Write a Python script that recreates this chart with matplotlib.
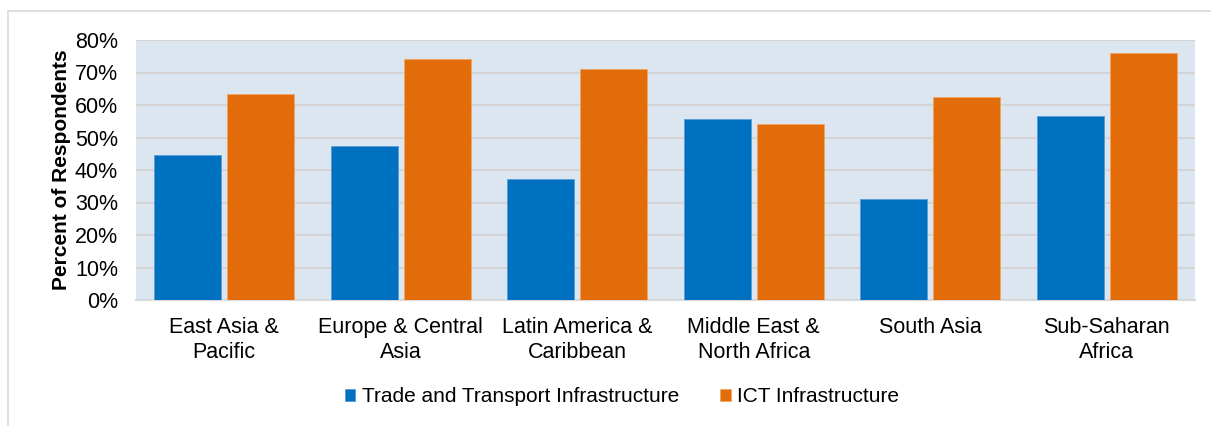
import numpy as np
import matplotlib.pyplot as plt
from matplotlib.patches import Rectangle

plt.rcParams['font.family'] = ['Liberation Sans', 'DejaVu Sans']

regions = ['East Asia &\nPacific', 'Europe & Central\nAsia', 'Latin America &\nCaribbean',
           'Middle East &\nNorth Africa', 'South Asia', 'Sub-Saharan\nAfrica']
trade = [44.5, 47.4, 37.1, 55.6, 31.0, 56.7]
ict = [63.3, 74.1, 71.0, 54.2, 62.5, 76.1]
yticks = [0, 10, 20, 30, 40, 50, 60, 70, 80]

blue = '#0070C0'
orange = '#E36C0A'
fs = 15.5

fig = plt.figure(figsize=(12.11, 4.26), dpi=100)
# outer chart frame
fig.patches.append(Rectangle((8/1211, -0.01), 1.0, (426-11)/426 + 0.01, transform=fig.transFigure,
                             fill=False, edgecolor='#D9D9D9', lw=1.2))
ax = fig.add_axes([136/1211, 126/426, 1059/1211, 260/426])
ax.set_facecolor('#DCE6F1')

x = np.arange(len(regions))
w = 0.38
off = 0.207
ax.bar(x - off, trade, w, color=blue, edgecolor='#5B9BD5', lw=0.6,
       label='Trade and Transport Infrastructure', zorder=3)
ax.bar(x + off, ict, w, color=orange, edgecolor='#F4A460', lw=0.6,
       label='ICT Infrastructure', zorder=3)

ax.set_xlim(-0.5, len(regions) - 0.5)
ax.set_ylim(0, 80)
ax.set_yticks(yticks)
ax.set_yticklabels([f'{v}%' for v in yticks], fontsize=fs)
ax.set_xticks(x)
ax.set_xticklabels(regions, fontsize=fs, linespacing=1.25)
ax.tick_params(length=0, pad=12)
ax.tick_params(axis='y', pad=13)
ax.yaxis.grid(True, color='#D4D4D4', lw=1.5, zorder=0)
ax.set_axisbelow(True)
for s in ['top', 'right', 'left']:
    ax.spines[s].set_visible(False)
ax.spines['bottom'].set_color('#D9D9D9')
ax.spines['bottom'].set_linewidth(1.5)

ax.set_ylabel('Percent of Respondents', fontsize=15, fontweight='bold', labelpad=3)

fig.legend(loc='center', bbox_to_anchor=(622/1211, (426-397)/426), ncol=2, frameon=False,
           fontsize=15, handlelength=0.5, handleheight=0.5, handletextpad=0.3,
           columnspacing=2.0)

fig.savefig('out.png', dpi=100)
